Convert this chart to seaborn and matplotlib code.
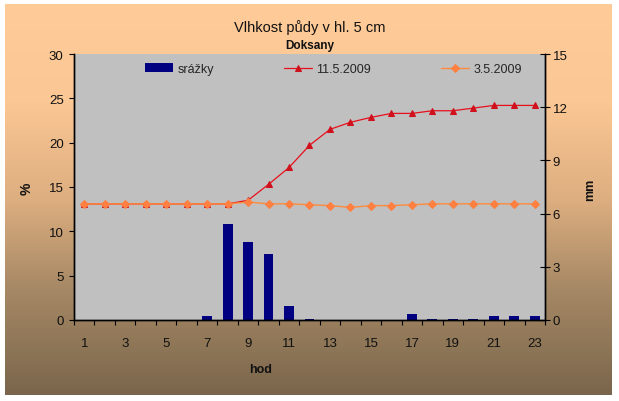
import numpy as np
import pandas as pd
import matplotlib
matplotlib.use("Agg")
import matplotlib.pyplot as plt
from matplotlib.colors import LinearSegmentedColormap
import seaborn as sns

# ---- data ----
hours = list(range(1, 24))
srazky = [0, 0, 0, 0, 0, 0, 0.24, 5.41, 4.42, 3.72, 0.81, 0.04, 0, 0, 0, 0,
          0.34, 0.04, 0.04, 0.04, 0.24, 0.24, 0.24]
vlhkost_11_5 = [13.1, 13.1, 13.1, 13.1, 13.1, 13.1, 13.1, 13.1, 13.5, 15.3, 17.2,
                19.7, 21.5, 22.3, 22.85, 23.3, 23.3, 23.6, 23.6, 23.9, 24.2, 24.2, 24.2]
vlhkost_3_5 = [13.1, 13.1, 13.1, 13.1, 13.1, 13.1, 13.1, 13.1, 13.3, 13.1, 13.1,
               13.0, 12.9, 12.7, 12.9, 12.9, 13.0, 13.1, 13.1, 13.1, 13.1, 13.1, 13.1]
x_tick_labels = [str(h) for h in range(1, 24, 2)]
left_ticks = [0, 5, 10, 15, 20, 25, 30]
right_ticks = [0, 3, 6, 9, 12, 15]

sns.set_style("ticks")
plt.rcParams['font.family'] = ['Liberation Sans', 'DejaVu Sans']

W, H = 619, 402
fig = plt.figure(figsize=(W / 100, H / 100), dpi=100, facecolor="white")

# gradient background
bg = fig.add_axes([5 / W, 6 / H, 607 / W, 391 / H], zorder=-5)
cmap = LinearSegmentedColormap.from_list(
    "bg", [(0.0, "#FFCC99"), (0.25, "#FBC794"), (0.5, "#DDAE80"),
           (0.72, "#A88A66"), (1.0, "#7A664C")])
grad = np.linspace(0, 1, 256).reshape(-1, 1)
bg.imshow(grad, aspect="auto", cmap=cmap, extent=[0, 1, 1, 0])
bg.set_axis_off()

ax1 = fig.add_axes([74 / W, 81 / H, 471 / W, 266 / H])
ax1.set_facecolor("#C0C0C0")
ax2 = ax1.twinx()

df = pd.DataFrame({"hod": hours, "srazky": srazky,
                   "v11": vlhkost_11_5, "v3": vlhkost_3_5})

sns.barplot(data=df, x="hod", y="srazky", native_scale=True, ax=ax2,
            color="#000080", width=0.48, saturation=1, label="srážky",
            edgecolor="none", linewidth=0)
ax2.set_zorder(0)
ax1.set_zorder(1)
ax1.patch.set_visible(False)
ax2.patch.set_visible(True)
ax2.patch.set_facecolor("#C0C0C0")

sns.lineplot(data=df, x="hod", y="v11", ax=ax1, color="#E8101C", lw=0.9,
             marker="^", markersize=5, markeredgecolor="#D0101C",
             markerfacecolor="#D0101C", label="11.5.2009")
sns.lineplot(data=df, x="hod", y="v3", ax=ax1, color="#FF8A3C", lw=1.0,
             marker="D", markersize=4.5, markeredgecolor="#FF8040",
             markerfacecolor="#FF8040", label="3.5.2009")

ax1.set_xlim(0.5, 23.5)
ax1.set_ylim(0, 30)
ax2.set_ylim(0, 15)
ax1.set_yticks(left_ticks)
ax2.set_yticks(right_ticks)
ax1.set_xticks(list(range(1, 24, 2)))
ax1.set_xticklabels(x_tick_labels)
ax1.set_xticks(np.arange(0.5, 24, 1), minor=True)
ax1.set_xlabel("")
ax1.set_ylabel("")
ax2.set_xlabel("")
ax2.set_ylabel("")
if ax1.legend_:
    ax1.legend_.remove()
if ax2.legend_:
    ax2.legend_.remove()

for ax in (ax1, ax2):
    ax.spines["top"].set_visible(False)
    for s in ("left", "right", "bottom"):
        ax.spines[s].set_color("black")
        ax.spines[s].set_linewidth(1.0)

ax1.tick_params(axis="x", which="major", length=0, pad=12, labelsize=9.5,
                labelcolor="#111111")
ax1.tick_params(axis="x", which="minor", length=3.5, direction="out",
                color="black", width=0.8)
ax1.tick_params(axis="y", length=3.5, direction="out", pad=4, labelsize=9.5,
                color="black", width=0.8, labelcolor="#111111")
ax2.tick_params(axis="y", length=7, direction="inout", pad=2, labelsize=9.5,
                color="black", width=0.8, labelcolor="#111111")

# legend
h1, l1 = ax1.get_legend_handles_labels()
h2, l2 = ax2.get_legend_handles_labels()
leg = ax1.legend(h2 + h1, l2 + l1, ncol=3, loc="upper left",
                 bbox_to_anchor=(66 / 471, 0.985), frameon=False,
                 fontsize=9, handlelength=2.2, handletextpad=0.4,
                 columnspacing=5.6, borderaxespad=0)

fig.text(310 / W, 1 - 28 / H, "Vlhkost půdy v hl. 5 cm", ha="center",
         va="center", fontsize=10.5, color="#111111")
fig.text(310 / W, 1 - 46 / H, "Doksany", ha="center", va="center",
         fontsize=8.5, fontweight="bold", color="#111111")
fig.text(261 / W, 1 - 370 / H, "hod", ha="center", va="center",
         fontsize=9, fontweight="bold", color="#111111")
fig.text(27 / W, 1 - 189 / H, "%", ha="center", va="center", rotation=90,
         fontsize=10, fontweight="bold", color="#111111")
fig.text(590 / W, 1 - 190 / H, "mm", ha="center", va="center", rotation=90,
         fontsize=9, fontweight="bold", color="#111111")

fig.savefig("out.png", dpi=100, facecolor="white")
